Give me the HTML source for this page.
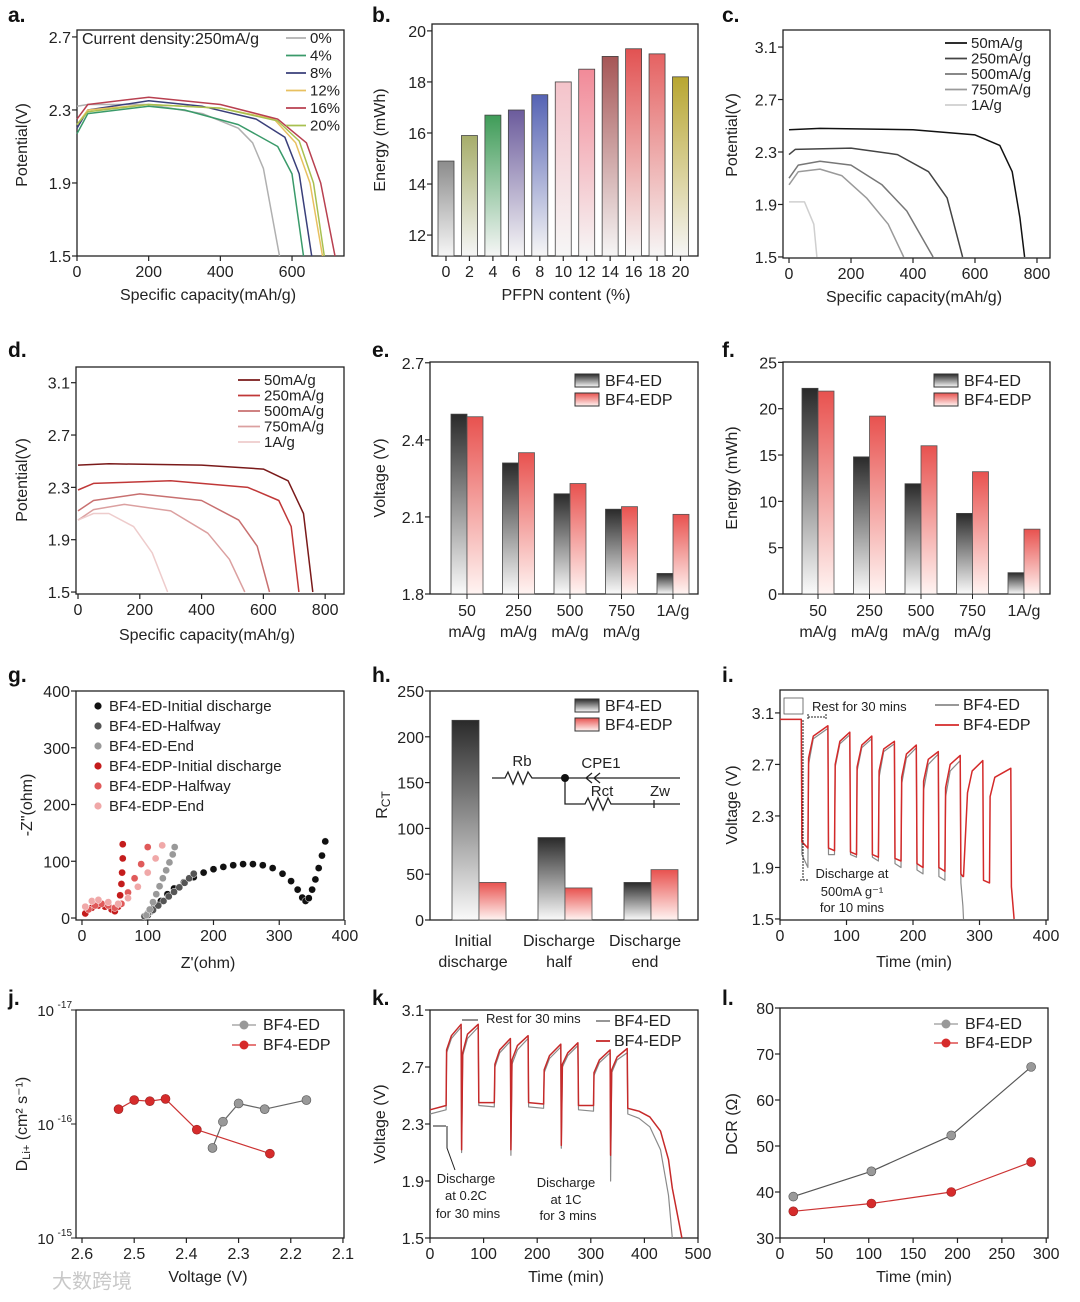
<!DOCTYPE html>
<html><head><meta charset="utf-8"><style>
html,body{margin:0;padding:0;background:#fff}
svg{display:block;font-family:"Liberation Sans","Noto Sans CJK SC",sans-serif}
</style></head><body>
<svg id="fig" width="1080" height="1302" viewBox="0 0 1080 1302" xmlns="http://www.w3.org/2000/svg">
<defs>
<linearGradient id="gED" x1="0" y1="0" x2="0" y2="1"><stop offset="0" stop-color="#2a2a2a"/><stop offset="1" stop-color="#fafafa"/></linearGradient>
<linearGradient id="gEDP" x1="0" y1="0" x2="0" y2="1"><stop offset="0" stop-color="#e8524f"/><stop offset="1" stop-color="#fff4f2"/></linearGradient>
</defs>
</svg>
<script>
// ---------- data ----------
const aCap0=[0,30,200,350,450,490,520,565], aV0=[2.32,2.33,2.33,2.28,2.2,2.12,1.98,1.5];
const aCap4=[0,30,200,300,450,560,600,632], aV4=[2.17,2.28,2.32,2.3,2.22,2.1,1.95,1.5];
const aCap8=[0,30,200,350,500,580,620,655], aV8=[2.2,2.3,2.35,2.32,2.25,2.15,1.95,1.5];
const aCap12=[0,30,200,400,550,610,650,685], aV12=[2.22,2.3,2.33,2.31,2.25,2.12,1.9,1.5];
const aCap16=[0,30,200,400,560,640,680,720], aV16=[2.25,2.33,2.37,2.33,2.25,2.12,1.9,1.5];
const aCap20=[0,30,200,400,560,620,660,690], aV20=[2.22,2.29,2.33,2.31,2.24,2.13,1.9,1.5];
const bCats=[0,2,4,6,8,10,12,14,16,18,20];
const bEnergy=[14.9,15.9,16.7,16.9,17.5,18.0,18.5,19.0,19.3,19.1,18.2];
const cCap50=[0,100,400,600,680,720,745,760], cV50=[2.47,2.48,2.47,2.43,2.35,2.15,1.8,1.5];
const cCap250=[0,20,200,350,450,510,560], cV250=[2.28,2.32,2.33,2.28,2.15,1.95,1.5];
const cCap500=[0,30,100,200,300,380,465], cV500=[2.1,2.2,2.23,2.2,2.05,1.85,1.5];
const cCap750=[0,30,100,170,250,320,370], cV750=[2.05,2.15,2.17,2.12,1.95,1.75,1.5];
const cCap1A=[0,50,80,90], cV1A=[1.92,1.92,1.75,1.5];
const dCap50=[0,100,400,600,680,730,760], dV50=[2.47,2.48,2.47,2.44,2.35,2.1,1.5];
const dCap250=[0,50,300,550,650,690,715], dV250=[2.28,2.33,2.35,2.3,2.2,2.0,1.5];
const dCap500=[0,50,200,400,520,580,620], dV500=[2.12,2.2,2.25,2.2,2.05,1.85,1.5];
const dCap750=[0,50,150,300,420,490,540], dV750=[2.05,2.13,2.17,2.12,1.95,1.75,1.5];
const dCap1A=[0,50,100,180,240,290], dV1A=[2.05,2.1,2.1,2.0,1.8,1.5];
const rateCats=["50|mA/g","250|mA/g","500|mA/g","750|mA/g","1A/g"];
const eED=[2.50,2.31,2.19,2.13,1.88], eEDP=[2.49,2.35,2.23,2.14,2.11];
const fED=[22.2,14.8,11.9,8.7,2.3], fEDP=[21.9,19.2,16.0,13.2,7.0];
const gX1=[100,105,110,120,130,140,155,170,185,200,215,230,245,260,275,290,305,318,328,335,340,345,350,355,360,365,370];
const gY1=[5,12,20,30,42,52,63,72,80,86,90,93,95,95,93,88,78,65,50,36,30,35,50,68,88,110,135];
const gX2=[95,100,108,116,124,132,140,148,156,163,170], gY2=[3,8,14,22,30,38,46,54,62,70,78];
const gX3=[98,103,108,113,118,123,128,133,138,141], gY3=[5,15,28,42,56,70,84,98,112,125];
const gX4=[5,15,25,35,45,50,55,58,60,61,62,62], gY4=[8,18,22,20,15,12,20,40,60,80,105,130];
const gX5=[10,20,30,40,50,60,70,80,90,100], gY5=[15,22,25,22,18,25,45,70,95,125];
const gX6=[5,15,25,40,55,70,85,100,112,122], gY6=[20,30,32,28,25,35,55,80,105,128];
const hCats=["Initial|discharge","Discharge|half","Discharge|end"];
const hED=[218,90,41], hEDP=[41,35,55];
const iT=[0,32,33,42,43,50,72,73,82,83,90,105,106,115,116,123,138,139,148,149,156,172,173,182,183,190,205,206,215,216,223,238,239,248,249,256,271,272,275,276,282,289,305,306,315,316,323,347,348,352];
const iEDP=[3.05,3.05,2.1,2.05,2.75,2.92,3.0,2.05,2.03,2.7,2.88,2.95,2.02,2.0,2.68,2.85,2.92,2.0,1.98,2.65,2.82,2.88,1.97,1.95,2.6,2.78,2.85,1.93,1.9,2.57,2.74,2.8,1.9,1.87,2.52,2.7,2.77,1.85,1.83,1.83,2.48,2.65,2.73,1.8,1.78,2.45,2.6,2.67,1.75,1.5];
const iED=[3.05,3.05,2.0,1.9,2.7,2.9,2.98,2.0,2.0,2.68,2.86,2.93,2.0,1.98,2.65,2.83,2.9,1.98,1.95,2.6,2.8,2.86,1.93,1.9,2.55,2.75,2.83,1.88,1.85,2.5,2.7,2.78,1.83,1.8,2.45,2.65,2.73,1.78,1.6,1.5,null,null,null,null,null,null,null,null,null,null];
const jVolED=[2.35,2.33,2.30,2.25,2.17], jExpED=[-15.79,-16.02,-16.18,-16.13,-16.21];
const jVolEDP=[2.53,2.50,2.47,2.44,2.38,2.24], jExpEDP=[-16.13,-16.21,-16.20,-16.22,-15.95,-15.74];
const kT=[0,30,31,40,58,59,61,70,90,91,120,121,130,150,151,153,163,183,184,212,213,223,244,245,247,257,276,277,305,306,316,336,337,339,349,368,369,390,410,430,445,452,465,470];
const kEDP=[2.4,2.43,2.82,2.92,3.0,2.12,2.8,2.93,3.0,2.45,2.45,2.72,2.82,2.9,2.12,2.75,2.85,2.92,2.45,2.44,2.68,2.78,2.86,2.15,2.72,2.8,2.87,2.43,2.43,2.66,2.75,2.82,2.08,2.68,2.77,2.83,2.41,2.39,2.35,2.25,2.05,1.85,1.6,1.5];
const kED=[2.37,2.4,2.8,2.9,2.98,2.1,2.78,2.9,2.98,2.43,2.42,2.7,2.8,2.88,2.08,2.72,2.82,2.9,2.42,2.41,2.66,2.76,2.84,2.13,2.7,2.78,2.85,2.4,2.39,2.64,2.73,2.8,1.9,2.66,2.75,2.8,2.37,2.34,2.28,2.12,1.8,1.5,null,null];
const lT=[15,103,193,283];
const lED=[39,44.5,52.3,67.2], lEDP=[35.8,37.5,40,46.5];

// ---------- helpers ----------
const NS="http://www.w3.org/2000/svg";
const svg=document.getElementById('fig');
function E(tag,a,p){const e=document.createElementNS(NS,tag);for(const k in a)e.setAttribute(k,a[k]);(p||svg).appendChild(e);return e;}
function nm(e,n,i){
  
  
  return e;}
function T(x,y,s,size,anchor,p,fill,weight){const e=E('text',{x:x,y:y,'font-size':size||16,'text-anchor':anchor||'middle',fill:fill||'#222'},p);if(weight)e.setAttribute('font-weight',weight);e.textContent=s;return e;}
function lin(d0,d1,r0,r1){return v=>r0+(v-d0)/(d1-d0)*(r1-r0);}
function G(name){const g=E('g',{});nm(g,name,false);return g;}
function frame(g,x0,y0,x1,y1){const r=E('rect',{x:x0,y:y0,width:x1-x0,height:y1-y0,fill:'none',stroke:'#222','stroke-width':1.3},g);nm(r,'plot-frame',false);}
function xTicks(g,sx,vals,labels,y1,minor){vals.forEach((v,i)=>{E('line',{x1:sx(v),x2:sx(v),y1:y1,y2:y1+5,stroke:'#222','stroke-width':1.2},g);const t=T(sx(v),y1+21,labels?labels[i]:String(v),16,'middle',g);nm(t,'x-tick-label',false);});}
function yTicks(g,sy,vals,labels,x0){vals.forEach((v,i)=>{E('line',{x1:x0-5,x2:x0,y1:sy(v),y2:sy(v),stroke:'#222','stroke-width':1.2},g);const t=T(x0-6,sy(v)+6,labels?labels[i]:String(v),16,'end',g);nm(t,'y-tick-label',false);});}
function yTitle(g,x,y,s){const t=T(x,y,s,16,'middle',g);t.setAttribute('transform','rotate(-90 '+x+' '+y+')');nm(t,'y-axis-title',false);return t;}
function xTitle(g,x,y,s){const t=T(x,y,s,16,'middle',g);nm(t,'x-axis-title',false);return t;}
function poly(g,sx,sy,xs,ys,color,w,name){let d='',pen=false;for(let i=0;i<xs.length;i++){if(ys[i]==null){pen=false;continue;}d+=(pen?'L':'M')+sx(xs[i]).toFixed(1)+','+sy(ys[i]).toFixed(1);pen=true;}const p=E('path',{d:d,fill:'none',stroke:color,'stroke-width':w||1.5,'stroke-linejoin':'round'},g);nm(p,name,false);return p;}
function plabel(x,y,s){const t=T(x,y,s,21,'start',svg,'#111','bold');nm(t,'panel-label-'+s[0],false);}
function legLine(g,x,y,color,text,size,len){const l=E('line',{x1:x,x2:x+(len||22),y1:y-5,y2:y-5,stroke:color,'stroke-width':1.8},g);nm(l,'legend-swatch',false);const t=T(x+(len||22)+4,y,text,size||15,'start',g);nm(t,'legend-entry',false);}
function legBox(g,x,y,fill,text){const r=E('rect',{x:x,y:y-12,width:24,height:13,fill:fill,stroke:'#333','stroke-width':1},g);nm(r,'legend-swatch',false);const t=T(x+30,y,text,16,'start',g);nm(t,'legend-entry',false);}

// ---------- panel a ----------
plabel(8,22,'a.');
{const g=G('panel-a');const x0=77,x1=344,y0=30,y1=256;
const sx=lin(0,745,x0,x1),sy=lin(1.5,2.738,y1,y0);
frame(g,x0,y0,x1,y1);xTicks(g,sx,[0,200,400,600],null,y1);yTicks(g,sy,[1.5,1.9,2.3,2.7],null,x0);
yTitle(g,27,145,'Potential(V)');xTitle(g,208,300,'Specific capacity(mAh/g)');
const cols=['#b0b0b0','#3a9a6a','#3a3f7a','#e8c060','#b84050','#a8c050'];
const cs=[[aCap0,aV0],[aCap4,aV4],[aCap8,aV8],[aCap12,aV12],[aCap16,aV16],[aCap20,aV20]];
const labs=['0%','4%','8%','12%','16%','20%'];
cs.forEach((c,i)=>poly(g,sx,sy,c[0],c[1],cols[i],1.5,'curve-'+labs[i]));
const t=T(82,44,'Current density:250mA/g',16,'start',g);nm(t,'annotation',false);
labs.forEach((l,i)=>legLine(g,286,43+i*17.5,cols[i],l,15,20));}

// ---------- panel b ----------
plabel(372,22,'b.');
{const g=G('panel-b');const x0=432,x1=698,y0=24,y1=256;
const sy=lin(11.18,20.27,y1,y0);const sx=i=>446+i*23.45;
frame(g,x0,y0,x1,y1);
const cols=['#8c8c8c','#a6ad6a','#3f9c58','#6b5b9c','#5563b4','#f4c3ca','#f28a98','#a65656','#e25252','#e56262','#b8a630'];
bCats.forEach((c,i)=>{const gr=E('linearGradient',{id:'gb'+i,x1:0,y1:0,x2:0,y2:1},svg.querySelector('defs'));E('stop',{offset:0,'stop-color':cols[i]},gr);E('stop',{offset:1,'stop-color':'#f6f6f6'},gr);
const r=E('rect',{x:sx(i)-8,y:sy(bEnergy[i]),width:16,height:y1-sy(bEnergy[i]),fill:'url(#gb'+i+')',stroke:'#444','stroke-width':0.8},g);nm(r,'bar-'+c+'pct',false);});
xTicks(g,sx,bCats.map((c,i)=>i),bCats.map(String),y1);yTicks(g,sy,[12,14,16,18,20],null,x0);
yTitle(g,385,140,'Energy (mWh)');xTitle(g,566,300,'PFPN content (%)');}

// ---------- panel c ----------
plabel(722,22,'c.');
{const g=G('panel-c');const x0=783,x1=1050,y0=30,y1=258;
const sx=lin(-19.4,842,x0,x1),sy=lin(1.492,3.23,y1,y0);
frame(g,x0,y0,x1,y1);xTicks(g,sx,[0,200,400,600,800],null,y1);yTicks(g,sy,[1.5,1.9,2.3,2.7,3.1],null,x0);
yTitle(g,737,135,'Potential(V)');xTitle(g,914,302,'Specific capacity(mAh/g)');
const cols=['#111','#444','#777','#9a9a9a','#cfcfcf'];const labs=['50mA/g','250mA/g','500mA/g','750mA/g','1A/g'];
[[cCap50,cV50],[cCap250,cV250],[cCap500,cV500],[cCap750,cV750],[cCap1A,cV1A]].forEach((c,i)=>poly(g,sx,sy,c[0],c[1],cols[i],1.5,'curve-'+labs[i]));
labs.forEach((l,i)=>legLine(g,945,48+i*15.5,cols[i],l,15,22));}

// ---------- panel d ----------
plabel(8,357,'d.');
{const g=G('panel-d');const x0=76,x1=344,y0=367,y1=594;
const sx=lin(-6.5,861,x0,x1),sy=lin(1.485,3.22,y1,y0);
frame(g,x0,y0,x1,y1);xTicks(g,sx,[0,200,400,600,800],null,y1);yTicks(g,sy,[1.5,1.9,2.3,2.7,3.1],null,x0);
yTitle(g,27,480,'Potential(V)');xTitle(g,207,640,'Specific capacity(mAh/g)');
const cols=['#7a1a1a','#c03838','#c87070','#dba0a0','#eecccc'];const labs=['50mA/g','250mA/g','500mA/g','750mA/g','1A/g'];
[[dCap50,dV50],[dCap250,dV250],[dCap500,dV500],[dCap750,dV750],[dCap1A,dV1A]].forEach((c,i)=>poly(g,sx,sy,c[0],c[1],cols[i],1.5,'curve-'+labs[i]));
labs.forEach((l,i)=>legLine(g,238,385+i*15.5,cols[i],l,15,22));}

// grouped bars
function grouped(g,sx,sy,y1,ed,edp,cats){cats.forEach((c,i)=>{
const a=E('rect',{x:sx(i)-16,y:sy(ed[i]),width:16,height:y1-sy(ed[i]),fill:'url(#gED)',stroke:'#444','stroke-width':0.8},g);nm(a,'bar-ED-'+i,false);
const b=E('rect',{x:sx(i),y:sy(edp[i]),width:16,height:y1-sy(edp[i]),fill:'url(#gEDP)',stroke:'#555','stroke-width':0.8},g);nm(b,'bar-EDP-'+i,false);
const parts=c.split('|');parts.forEach((p,k)=>{const t=T(sx(i),y1+22+k*21,p,16,'middle',g);nm(t,'x-tick-label',false);});
E('line',{x1:sx(i),x2:sx(i),y1:y1,y2:y1+5,stroke:'#222'},g);});}

// ---------- panel e ----------
plabel(372,357,'e.');
{const g=G('panel-e');const x0=430,x1=698,y0=362,y1=594;
const sy=lin(1.8,2.703,y1,y0);const sx=i=>467+i*51.5;
frame(g,x0,y0,x1,y1);grouped(g,sx,sy,y1,eED,eEDP,rateCats);yTicks(g,sy,[1.8,2.1,2.4,2.7],null,x0);
yTitle(g,385,478,'Voltage (V)');legBox(g,575,386,'url(#gED)','BF4-ED');legBox(g,575,405,'url(#gEDP)','BF4-EDP');}

// ---------- panel f ----------
plabel(722,357,'f.');
{const g=G('panel-f');const x0=783,x1=1050,y0=362,y1=594;
const sy=lin(0,25.04,y1,y0);const sx=i=>818+i*51.5;
frame(g,x0,y0,x1,y1);grouped(g,sx,sy,y1,fED,fEDP,rateCats);yTicks(g,sy,[0,5,10,15,20,25],null,x0);
yTitle(g,737,478,'Energy (mWh)');legBox(g,934,386,'url(#gED)','BF4-ED');legBox(g,934,405,'url(#gEDP)','BF4-EDP');}

// ---------- panel g ----------
plabel(8,682,'g.');
{const g=G('panel-g');const x0=76,x1=344,y0=691,y1=920;
const sx=lin(-9.1,398.5,x0,x1),sy=lin(-3.5,400,y1,y0);
frame(g,x0,y0,x1,y1);xTicks(g,sx,[0,100,200,300,400],null,y1);yTicks(g,sy,[0,100,200,300,400],null,x0);
yTitle(g,32,805,'-Z"(ohm)');xTitle(g,208,968,"Z'(ohm)");
const cols=['#111','#555','#999','#c41c1c','#e05a5a','#f0a8a8'];
const labs=['BF4-ED-Initial discharge','BF4-ED-Halfway','BF4-ED-End','BF4-EDP-Initial discharge','BF4-EDP-Halfway','BF4-EDP-End'];
[[gX1,gY1],[gX2,gY2],[gX3,gY3],[gX4,gY4],[gX5,gY5],[gX6,gY6]].forEach((s,i)=>{s[0].forEach((x,k)=>{const c=E('circle',{cx:sx(x),cy:sy(s[1][k]),r:3.6,fill:cols[i],stroke:'#fff','stroke-width':0.5},g);nm(c,'point-'+labs[i],false);});});
labs.forEach((l,i)=>{const c=E('circle',{cx:98,cy:711+i*20-5,r:3.6,fill:cols[i]},g);nm(c,'legend-swatch',false);const t=T(109,711+i*20,l,15,'start',g);nm(t,'legend-entry',false);});}

// ---------- panel h ----------
plabel(372,682,'h.');
{const g=G('panel-h');const x0=430,x1=698,y0=691,y1=920;
const sy=lin(0,250,y1,y0);const sx=i=>481+i*86;
frame(g,x0,y0,x1,y1);
hCats.forEach((c,i)=>{const a=E('rect',{x:sx(i)-29,y:sy(hED[i]),width:27,height:y1-sy(hED[i]),fill:'url(#gED)',stroke:'#444','stroke-width':0.8},g);nm(a,'bar-ED-'+i,false);
const b=E('rect',{x:sx(i)-2,y:sy(hEDP[i]),width:27,height:y1-sy(hEDP[i]),fill:'url(#gEDP)',stroke:'#555','stroke-width':0.8},g);nm(b,'bar-EDP-'+i,false);
c.split('|').forEach((p,k)=>{const t=T(sx(i)-8,y1+26+k*21,p,16,'middle',g);nm(t,'x-tick-label',false);});});
yTicks(g,sy,[0,50,100,150,200,250],null,x0);
const yt=yTitle(g,387,805,'R');const sub=T(0,0,'',12);sub.remove();
const s2=E('tspan',{'font-size':12,dy:3},yt);s2.textContent='CT';
legBox(g,575,711,'url(#gED)','BF4-ED');legBox(g,575,730,'url(#gEDP)','BF4-EDP');
const circ=G('circuit-inset');
E('path',{d:'M492,778 L505,778 L508,772 L513,784 L518,772 L523,784 L528,772 L532,778 L565,778 L680,778 M565,778 L565,804 L585,804 L588,798 L593,810 L598,798 L603,810 L608,798 L611,804 L640,804 L680,804 M586,778 l6,-5 m-6,5 l6,5 M594,778 l6,-5 m-6,5 l6,5 M648,804 l6,0 m0,-4 l0,8',fill:'none',stroke:'#222','stroke-width':1.3},circ);
E('circle',{cx:565,cy:778,r:4,fill:'#111'},circ);
[['Rb',522,766],['CPE1',601,768],['Rct',602,796],['Zw',660,796]].forEach(a=>{const t=T(a[1],a[2],a[0],15,'middle',circ);nm(t,'circuit-label',false);});}

// ---------- panel i ----------
plabel(722,682,'i.');
{const g=G('panel-i');const x0=780,x1=1048,y0=690,y1=920;
const sx=lin(0,403,x0,x1),sy=lin(1.492,3.278,y1,y0);
frame(g,x0,y0,x1,y1);xTicks(g,sx,[0,100,200,300,400],null,y1);yTicks(g,sy,[1.5,1.9,2.3,2.7,3.1],null,x0);
yTitle(g,737,805,'Voltage (V)');xTitle(g,914,967,'Time (min)');
poly(g,sx,sy,iT,iED,'#8a8a8a',1.2,'line-BF4-ED');poly(g,sx,sy,iT,iEDP,'#d42a2a',1.5,'line-BF4-EDP');
E('rect',{x:784,y:698,width:19,height:16,fill:'none',stroke:'#555','stroke-width':0.8},g);
E('path',{d:'M808,717 L826,717 M808,714 l0,6 M826,714 l0,6 M803,720 L803,880 M800,880 l8,0',fill:'none',stroke:'#222','stroke-width':1,'stroke-dasharray':'2,1'},g);
[['Rest for 30 mins',812,711,'start'],['Discharge at',852,878,'middle'],['500mA g⁻¹',852,896,'middle'],['for 10 mins',852,912,'middle']].forEach(a=>{const t=T(a[1],a[2],a[0],13,a[3],g);nm(t,'annotation',false);});
legLine(g,935,710,'#8a8a8a','BF4-ED',16,24);legLine(g,935,730,'#d42a2a','BF4-EDP',16,24);}

// ---------- panel j ----------
plabel(8,1005,'j.');
{const g=G('panel-j');const x0=76,x1=344,y0=1010,y1=1238;
const sx=lin(2.6115,2.098,x0,x1),sy=lin(-17,-15,y0,y1);
frame(g,x0,y0,x1,y1);xTicks(g,sx,[2.6,2.5,2.4,2.3,2.2,2.1],['2.6','2.5','2.4','2.3','2.2','2.1'],y1);
[-17,-16,-15].forEach(e=>{E('line',{x1:x0-5,x2:x0,y1:sy(e),y2:sy(e),stroke:'#222'},g);const t=T(x0-22,sy(e)+6,'10',15,'end',g);nm(t,'y-tick-label',false);const s=T(x0-4,sy(e)-2,String(e),10,'end',g);nm(s,'y-tick-exponent',false);});
const yt=yTitle(g,27,1124,'D');const ts=E('tspan',{'font-size':11,dy:3},yt);ts.textContent='Li+';const ts2=E('tspan',{'font-size':16,dy:-3},yt);ts2.textContent=' (cm² s⁻¹)';
xTitle(g,208,1282,'Voltage (V)');
poly(g,sx,sy,jVolED,jExpED,'#666',1.2,'line-BF4-ED');poly(g,sx,sy,jVolEDP,jExpEDP,'#c33',1.2,'line-BF4-EDP');
jVolED.forEach((v,i)=>{const c=E('circle',{cx:sx(v),cy:sy(jExpED[i]),r:4.5,fill:'#999',stroke:'#555','stroke-width':0.6},g);nm(c,'point-BF4-ED',false);});
jVolEDP.forEach((v,i)=>{const c=E('circle',{cx:sx(v),cy:sy(jExpEDP[i]),r:4.5,fill:'#d62b2b',stroke:'#922','stroke-width':0.6},g);nm(c,'point-BF4-EDP',false);});
[['#999','BF4-ED',1030],['#d62b2b','BF4-EDP',1050]].forEach(a=>{E('line',{x1:232,x2:256,y1:a[2]-5,y2:a[2]-5,stroke:a[0],'stroke-width':1.3},g);const c=E('circle',{cx:244,cy:a[2]-5,r:4.5,fill:a[0]},g);nm(c,'legend-swatch',false);const t=T(263,a[2],a[1],16,'start',g);nm(t,'legend-entry',false);});}

// ---------- panel k ----------
plabel(372,1005,'k.');
{const g=G('panel-k');const x0=430,x1=698,y0=1010,y1=1238;
const sx=lin(0,500,x0,x1),sy=lin(1.5,3.1,y1,y0);
frame(g,x0,y0,x1,y1);xTicks(g,sx,[0,100,200,300,400,500],null,y1);yTicks(g,sy,[1.5,1.9,2.3,2.7,3.1],null,x0);
yTitle(g,385,1124,'Voltage (V)');xTitle(g,566,1282,'Time (min)');
poly(g,sx,sy,kT,kED,'#8a8a8a',1.2,'line-BF4-ED');poly(g,sx,sy,kT,kEDP,'#c62a2a',1.5,'line-BF4-EDP');
E('path',{d:'M433,1126 L446,1126 M462,1020 L478,1020 M447,1126 L447,1148 L455,1170',fill:'none',stroke:'#222','stroke-width':1},g);
[['Rest for 30 mins',486,1023,'start'],['Discharge',466,1183,'middle'],['at 0.2C',466,1200,'middle'],['for 30 mins',468,1218,'middle'],['Discharge',566,1187,'middle'],['at 1C',566,1204,'middle'],['for 3 mins',568,1220,'middle']].forEach(a=>{const t=T(a[1],a[2],a[0],13,a[3],g);nm(t,'annotation',false);});
legLine(g,596,1026,'#8a8a8a','BF4-ED',16,14);legLine(g,596,1046,'#c62a2a','BF4-EDP',16,14);}

// ---------- panel l ----------
plabel(722,1005,'l.');
{const g=G('panel-l');const x0=780,x1=1048,y0=1008,y1=1238;
const sx=lin(0,302,x0,x1),sy=lin(30,80,y1,y0);
frame(g,x0,y0,x1,y1);xTicks(g,sx,[0,50,100,150,200,250,300],null,y1);yTicks(g,sy,[30,40,50,60,70,80],null,x0);
yTitle(g,737,1124,'DCR (Ω)');xTitle(g,914,1282,'Time (min)');
poly(g,sx,sy,lT,lED,'#555',1.2,'line-BF4-ED');poly(g,sx,sy,lT,lEDP,'#c33',1.2,'line-BF4-EDP');
lT.forEach((t,i)=>{const a=E('circle',{cx:sx(t),cy:sy(lED[i]),r:4.5,fill:'#999',stroke:'#555','stroke-width':0.6},g);nm(a,'point-BF4-ED',false);const b=E('circle',{cx:sx(t),cy:sy(lEDP[i]),r:4.5,fill:'#d62b2b',stroke:'#922','stroke-width':0.6},g);nm(b,'point-BF4-EDP',false);});
[['#999','BF4-ED',1029],['#d62b2b','BF4-EDP',1048]].forEach(a=>{E('line',{x1:934,x2:958,y1:a[2]-5,y2:a[2]-5,stroke:a[0],'stroke-width':1.3},g);const c=E('circle',{cx:946,cy:a[2]-5,r:4.5,fill:a[0]},g);nm(c,'legend-swatch',false);const t=T(965,a[2],a[1],16,'start',g);nm(t,'legend-entry',false);});}

// watermark
{const t=T(52,1288,'大数跨境',20,'start',svg,'#c8c8c8');

}
</script>
</body></html>
